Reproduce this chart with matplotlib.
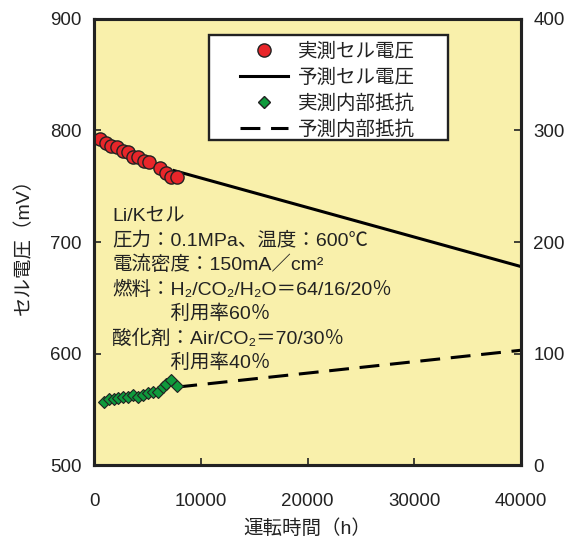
import numpy as np
import matplotlib
matplotlib.use("Agg")
from matplotlib import pyplot as plt
from matplotlib.lines import Line2D
from matplotlib.patches import Rectangle

plt.rcParams['font.family'] = ['Liberation Sans', 'Noto Sans CJK JP', 'DejaVu Sans']

# measured cell voltage (mV)
v_hours = [560, 1130, 1600, 2160, 2720, 3190, 3660, 4130, 4700, 5160, 6200, 6760, 7230, 7790]
v_meas = [792, 789, 786, 785, 782, 781, 776, 776, 773, 772, 766, 762, 758, 758]
# predicted cell voltage
v_pred_hours = [7500, 40000]
v_pred = [764, 678]
# measured internal resistance (right axis)
r_hours = [940, 1410, 1880, 2250, 2720, 3190, 3660, 4130, 4600, 5070, 5540, 6010, 6480, 6760, 7230, 7790]
r_meas = [57, 59, 59, 60, 61, 61, 63, 61, 63, 65, 66, 66, 70, 73, 76, 71]
# predicted internal resistance
r_pred_hours = [7800, 40000]
r_pred = [70, 103]

bg = "#f9f0ab"
red = "#e8262a"
green = "#0f9a3c"
ink = "#222222"

fig = plt.figure(figsize=(5.7, 5.39), dpi=100)
ax = fig.add_axes([0.165, 0.137, 0.749, 0.828])
ax.set_facecolor(bg)
ax2 = ax.twinx()

ax.plot(v_pred_hours, v_pred, color="black", lw=2.2, zorder=2)
ax.plot(v_hours, v_meas, "o", color=red, mec=ink, mew=1.0, ms=9.5, zorder=3)
ax2.plot(r_pred_hours, r_pred, color="black", lw=2.2, ls=(0, (6.5, 3.5)), zorder=2)
ax2.plot(r_hours, r_meas, "D", color=green, mec=ink, mew=0.8, ms=6, zorder=3)

ax.set_xlim(0, 40000)
ax.set_ylim(500, 900)
ax2.set_ylim(0, 400)
ax.set_xticks([0, 10000, 20000, 30000, 40000])
ax.set_yticks([500, 600, 700, 800, 900])
ax2.set_yticks([0, 100, 200, 300, 400])

for a in (ax, ax2):
    a.tick_params(direction="in", length=5, width=1.2, labelsize=13.5, colors=ink, pad=9)
    for s in a.spines.values():
        s.set_linewidth(2.2)
        s.set_color(ink)
ax.tick_params(axis="x", pad=20)

ax.set_xlabel("運転時間（h）", fontsize=14, labelpad=7, color=ink)
ax.set_ylabel("セル電圧（mV）", fontsize=14, labelpad=12, color=ink)

# condition text
lines = ["Li/Kセル",
         "圧力：0.1MPa、温度：600℃",
         "電流密度：150mA／cm²",
         "燃料：H₂/CO₂/H₂O＝64/16/20％",
         "　　　利用率60％",
         "酸化剤：Air/CO₂＝70/30％",
         "　　　利用率40％"]
y0 = 216
for i, t in enumerate(lines):
    ax.text(112 / 570, 1 - (y0 + i * 24.5) / 539, t, transform=fig.transFigure,
            fontsize=14, va="center", ha="left", color=ink, zorder=5)

# legend box drawn by hand for the wide side padding
box = Rectangle((209 / 570, 1 - 140 / 539), 239 / 570, 105 / 539, transform=fig.transFigure,
                facecolor="white", edgecolor=ink, lw=1.7, zorder=4, clip_on=False)
ax2.add_patch(box)

handles = [Line2D([], [], ls="none", marker="o", color=red, mec=ink, ms=9.5),
           Line2D([], [], color="black", lw=2.2),
           Line2D([], [], ls="none", marker="D", color=green, mec=ink, ms=6),
           Line2D([], [], color="black", lw=2.2, ls=(0, (6.5, 3.5)))]
labels = ["実測セル電圧", "予測セル電圧", "実測内部抵抗", "予測内部抵抗"]
leg = ax2.legend(handles, labels, loc="upper left",
                 bbox_to_anchor=(240 / 570, 1 - 43 / 539), bbox_transform=fig.transFigure,
                 fontsize=14, frameon=False, handlelength=2.47,
                 labelspacing=0.39, borderpad=0, handletextpad=0.5, borderaxespad=0)
leg.set_zorder(5)
for t in leg.get_texts():
    t.set_color(ink)

fig.savefig("out.png", dpi=100, facecolor="white")
